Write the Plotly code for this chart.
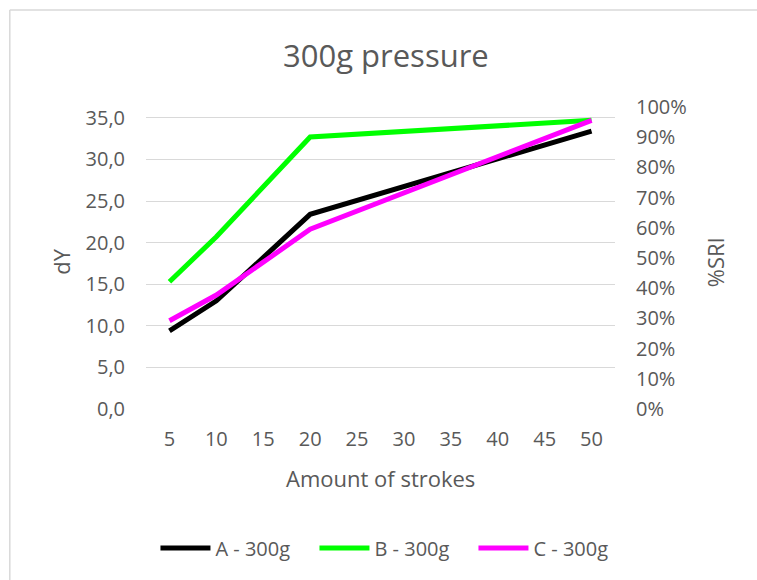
import plotly.graph_objects as go

strokes = [5, 10, 20, 50]
a_300 = [9.4, 13.0, 23.4, 33.4]
b_300 = [15.3, 20.7, 32.7, 34.7]
c_300 = [10.6, 13.7, 21.6, 34.7]
x_ticks = [5, 10, 15, 20, 25, 30, 35, 40, 45, 50]
y_ticks = [0, 5, 10, 15, 20, 25, 30, 35]
y_ticklabels = ["0,0", "5,0", "10,0", "15,0", "20,0", "25,0", "30,0", "35,0"]
y2_ticks = [i / 10 for i in range(11)]
y2_ticklabels = [f"{i*10}%" for i in range(11)]

W, H = 757, 580
L, R, T, B = 145.5, 615.5, 107, 409
FONT = "Open Sans"
GRAY = "#595959"

def px(x):
    return (x - L) / (R - L)

def py(y):
    return (B - y) / (B - T)

fig = go.Figure()
for name, vals, col in [("A - 300g", a_300, "#000000"),
                        ("B - 300g", b_300, "#00FF00"),
                        ("C - 300g", c_300, "#FF00FF")]:
    fig.add_trace(go.Scatter(x=strokes, y=vals, mode="lines", name=name,
                             line=dict(color=col, width=5)))
fig.add_trace(go.Scatter(x=[None], y=[None], yaxis="y2", showlegend=False,
                         hoverinfo="skip"))

fig.update_layout(
    width=W, height=H,
    margin=dict(l=L, r=W - R, t=T, b=H - B, autoexpand=False),
    paper_bgcolor="white", plot_bgcolor="white",
    font=dict(family=FONT, color=GRAY, size=20),
    showlegend=True,
    legend=dict(orientation="h", x=px(633), y=py(548), xanchor="right",
                yanchor="middle", font=dict(size=20, color=GRAY),
                itemwidth=50, entrywidth=94, entrywidthmode="pixels",
                tracegroupgap=0),
    xaxis=dict(range=[2.5, 52.5], tickvals=x_ticks, showgrid=False,
               zeroline=False, showline=False, ticks="",
               tickfont=dict(size=20, color=GRAY), ticklabelstandoff=16),
    yaxis=dict(range=[0, 35 * (B - T) / (409 - 117.8)], tickvals=y_ticks,
               ticktext=y_ticklabels, showgrid=True, gridcolor="#d9d9d9",
               gridwidth=1.3, zeroline=False, showline=False, ticks="",
               tickfont=dict(size=20, color=GRAY), ticklabelstandoff=20),
    yaxis2=dict(range=[0, 1], overlaying="y", side="right", tickvals=y2_ticks,
                ticktext=y2_ticklabels, showgrid=False, zeroline=False,
                showline=False, ticks="", tickfont=dict(size=20, color=GRAY),
                ticklabelstandoff=20),
    annotations=[
        dict(text="300g pressure", xref="paper", yref="paper", x=px(386),
             y=py(55), xanchor="center", yanchor="middle", showarrow=False,
             font=dict(size=31, color=GRAY)),
        dict(text="dY", xref="paper", yref="paper", x=px(60), y=py(262),
             textangle=-90, xanchor="center", yanchor="middle",
             showarrow=False, font=dict(size=22, color=GRAY)),
        dict(text="%SRI", xref="paper", yref="paper", x=px(716), y=py(262),
             textangle=-90, xanchor="center", yanchor="middle",
             showarrow=False, font=dict(size=22, color=GRAY)),
        dict(text="Amount of strokes", xref="paper", yref="paper", x=px(381),
             y=py(478), xanchor="center", yanchor="middle", showarrow=False,
             font=dict(size=22, color=GRAY)),
    ],
    shapes=[
        dict(type="line", xref="paper", yref="paper", x0=px(9), x1=px(760),
             y0=py(10), y1=py(10), line=dict(color="#d9d9d9", width=1.5)),
        dict(type="line", xref="paper", yref="paper", x0=px(9), x1=px(9),
             y0=py(10), y1=py(590), line=dict(color="#d9d9d9", width=1.5)),
    ],
)

fig.write_html("out.html",
               config={"displayModeBar": False},
               post_script="document.body.style.margin='0';"
                           "document.documentElement.style.overflow='hidden';")
